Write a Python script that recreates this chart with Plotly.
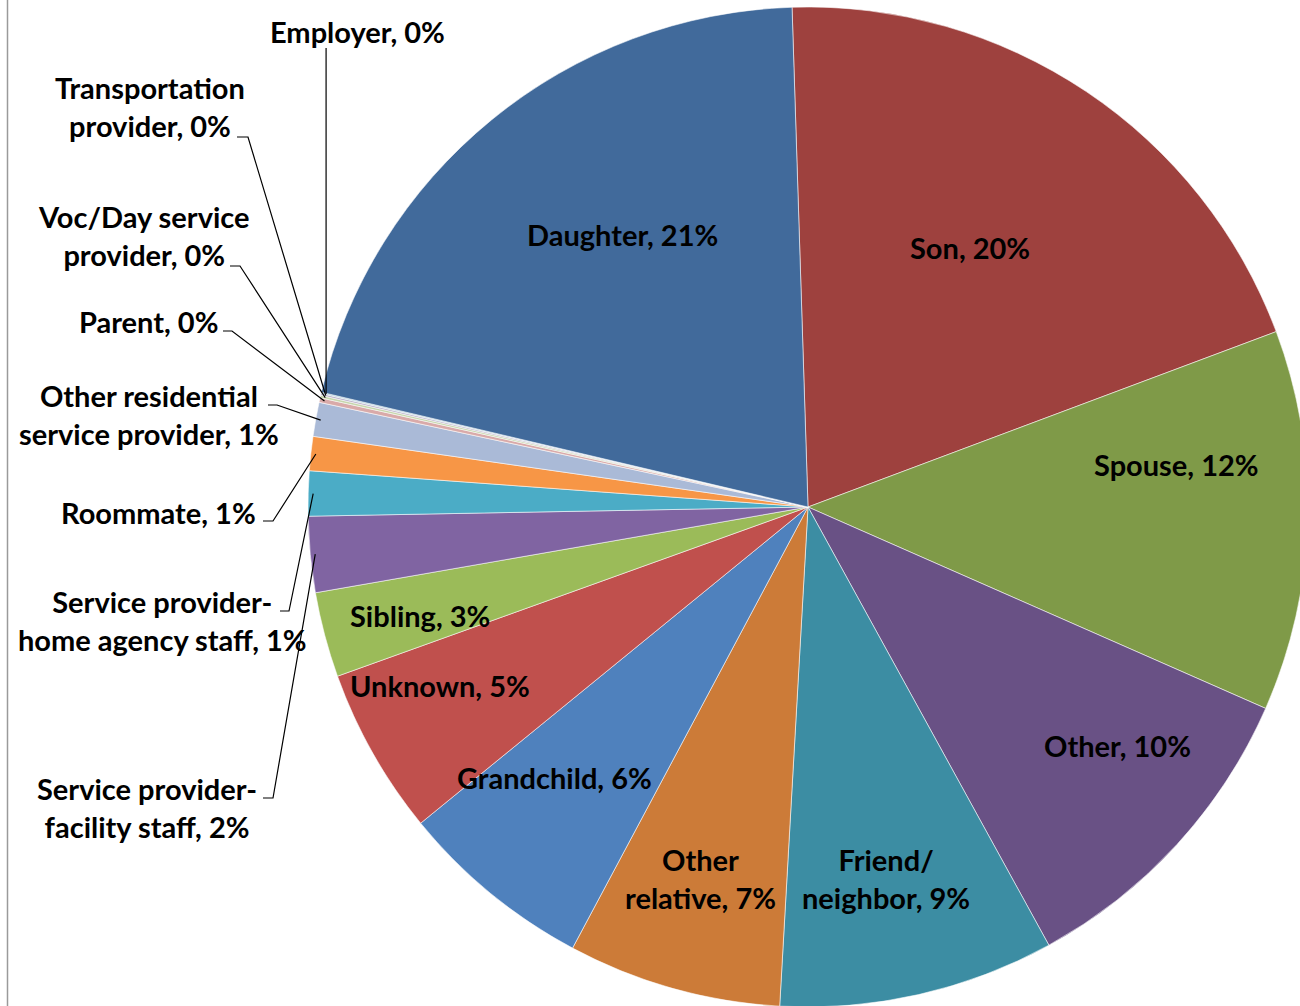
import math
import plotly.graph_objects as go

# the figure is a little larger than the 1300x1006 page so the pie can run off
# the right edge like the original; the page hides the overflow
W, H = 1310, 1010

# slices in clockwise order, starting just left of 12 o'clock
relationships = [
    "Son", "Spouse", "Other", "Friend/<br>neighbor", "Other<br>relative",
    "Grandchild", "Unknown", "Sibling", "Service provider-<br>facility staff",
    "Service provider-<br>home agency staff", "Roommate",
    "Other residential<br>service provider", "Parent",
    "Voc/Day service<br>provider", "Transportation<br>provider", "Employer",
    "Daughter",
]
shares = [19.8, 12.3, 10.4, 8.9, 6.9, 6.3, 5.4, 2.75, 2.45, 1.45, 1.1, 1.1,
          0.15, 0.08, 0.06, 0.04, 20.8]
colors = [
    "#9E413E", "#7F9A48", "#695185", "#3C8DA3", "#CC7B38", "#4F81BD",
    "#C0504D", "#9BBB59", "#8064A2", "#4BACC6", "#F79646", "#AABAD7",
    "#D9AAA9", "#C6D6AC", "#BAB0C9", "#A9CEDC", "#416A9B",
]

# label centres (page px) and, for outside labels, the leader stub (x0, x1, y)
label_pos = {
    "Son": (970, 247), "Spouse": (1176, 465), "Other": (1117, 745),
    "Friend/<br>neighbor": (886, 878), "Other<br>relative": (700, 878),
    "Grandchild": (554, 777), "Unknown": (440, 685), "Sibling": (420, 615),
    "Daughter": (622, 235),
    "Service provider-<br>facility staff": (147, 807),
    "Service provider-<br>home agency staff": (162, 620),
    "Roommate": (158, 512),
    "Other residential<br>service provider": (149, 415),
    "Parent": (148, 321),
    "Voc/Day service<br>provider": (144, 236),
    "Transportation<br>provider": (150, 107),
    "Employer": (357, 31),
}
stubs = {
    "Service provider-<br>facility staff": (263, 273, 798),
    "Service provider-<br>home agency staff": (280, 289, 611),
    "Roommate": (263, 273, 521),
    "Other residential<br>service provider": (268, 277, 405),
    "Parent": (223, 232, 331),
    "Voc/Day service<br>provider": (230, 240, 266),
    "Transportation<br>provider": (237, 248, 137),
    "Employer": (None, None, 48),
}

rotation = -1.83
cx, cy, r = 808, 507, 500


def px(x):
    return x / W


def py(y):
    return 1 - y / H


fig = go.Figure()
fig.add_trace(go.Pie(
    labels=relationships,
    values=shares,
    sort=False,
    direction="clockwise",
    rotation=rotation,
    marker=dict(colors=colors, line=dict(color="rgba(255,255,255,0.55)", width=1)),
    textinfo="none",
    hoverinfo="label+percent",
    showlegend=False,
    domain=dict(x=[px(cx - r), px(cx + r)], y=[py(cy + r), py(cy - r)]),
))

total = sum(shares)
font = dict(family="Lato", size=29, color="black", weight="bold")
annotations = []
shapes = [dict(type="line", xref="paper", yref="paper", x0=px(7.5), x1=px(7.5),
               y0=0, y1=1, line=dict(color="#9a9a9a", width=1.5))]

acc = 0.0
for name, v in zip(relationships, shares):
    mid = math.radians(rotation + 360 * (acc + v / 2) / total)
    acc += v
    pct = round(100 * v / total)
    lx, ly = label_pos[name]
    annotations.append(dict(
        x=px(lx), y=py(ly), xref="paper", yref="paper",
        text=f"{name}, {pct}%", showarrow=False, font=font,
        xanchor="center", yanchor="middle", align="center",
    ))
    if name in stubs:
        ex = cx + 0.99 * r * math.sin(mid)
        ey = cy - 0.99 * r * math.cos(mid)
        sx0, sx1, sy = stubs[name]
        if sx0 is None:
            pts = [(ex, sy), (ex, ey)]
        else:
            pts = [(sx0, sy), (sx1, sy), (ex, ey)]
        path = "M " + " L ".join(f"{px(x):.5f},{py(y):.5f}" for x, y in pts)
        shapes.append(dict(type="path", xref="paper", yref="paper", path=path,
                           line=dict(color="black", width=1.2)))

fig.update_layout(
    width=W, height=H,
    margin=dict(l=0, r=0, t=0, b=0),
    paper_bgcolor="white",
    plot_bgcolor="white",
    annotations=annotations,
    shapes=shapes,
)

fig.write_html(
    "out.html",
    config={"displayModeBar": False},
    post_script="document.body.style.margin='0';document.body.style.overflow='hidden';",
)
